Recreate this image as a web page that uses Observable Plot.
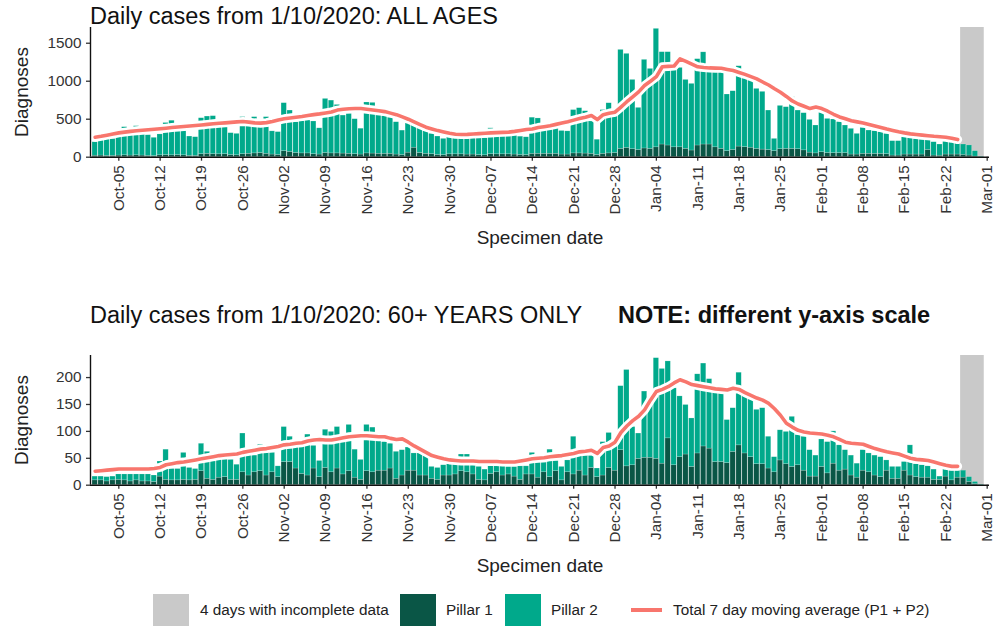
<!DOCTYPE html>
<html><head><meta charset="utf-8">
<script src="https://cdn.jsdelivr.net/npm/d3@7"></script>
<script src="https://cdn.jsdelivr.net/npm/@observablehq/plot@0.6"></script>
<style>
body{margin:0;background:#fff;font-family:"Liberation Sans",Arial,sans-serif;}
#wrap{position:relative;width:994px;height:627px;overflow:hidden;background:#fff;}
.panel{position:absolute;left:0;}
.ytitle{position:absolute;font-size:19px;color:#222;transform:translate(-50%,-50%) rotate(-90deg);white-space:nowrap;line-height:1;}
.xtitle{position:absolute;font-size:19px;color:#222;transform:translate(-50%,-50%);white-space:nowrap;line-height:1;}
.title{position:absolute;font-size:23.5px;color:#111;white-space:nowrap;line-height:1;}
.lg{position:absolute;top:594px;height:32px;line-height:32px;font-size:15.3px;color:#222;white-space:nowrap;}
#wrap svg [aria-label$="tick"]{stroke-width:1.3px;}
</style></head><body><div id="wrap"></div>
<script>
// ---------- DATA ----------
const firstDay = "2020-10-01";
const allAgesTotal = [197,228,233,241,263,395,330,408,320,290,255,
300,450,480,340,345,272,263,513,535,540,
410,400,316,307,527,450,527,455,527,340,
330,711,614,460,474,482,470,380,767,745,
688,548,570,500,375,720,715,548,540,520,
460,350,452,440,395,342,307,272,241,285,
285,285,282,280,255,250,380,290,290,292,
290,270,262,520,510,400,400,395,345,340,
620,645,605,470,230,620,710,560,1412,1360,
1017,649,1281,1162,1689,1382,1382,1190,1175,1017,
965,1290,1380,1165,1150,1140,825,868,1197,1040,
1009,899,860,614,241,675,658,790,614,579,
491,417,660,504,496,461,417,373,307,386,
351,342,329,307,211,211,263,255,241,232,
228,197,167,211,197,184,167,155,79,8];
const allAgesPillar1 = [20,22,18,18,22,25,22,25,22,18,15,
25,28,25,28,25,18,18,
40,45,40,38,40,30,25,
40,45,50,55,45,35,30,
80,70,55,50,50,40,35,
55,50,50,48,45,40,35,
50,48,45,45,45,35,30,
60,125,55,45,40,30,28,
38,38,38,35,35,28,25,
40,38,38,38,35,30,28,
45,45,45,45,45,35,35,
50,50,48,45,30,45,50,
55,110,123,105,95,115,110,
130,167,154,130,130,110,88,
154,167,167,130,110,79,96,
140,132,125,110,100,95,80,
105,110,110,105,90,60,50,
66,55,53,53,53,35,35,
45,45,44,44,40,22,22,
35,35,35,35,96,22,20,
35,35,35,30,22,9,2];
const allAgesMovingAvg = [263,275,290,305,320,330,340,348,355,362,
368,375,382,390,397,403,410,417,424,432,
440,446,452,458,465,470,462,452,448,455,
470,490,505,515,525,535,548,560,570,582,
595,620,632,638,640,640,632,622,612,600,
580,560,530,500,465,430,395,372,350,332,
315,302,298,300,305,310,315,320,324,327,
330,340,352,364,372,390,402,415,432,450,
468,488,508,527,548,495,560,578,592,660,
730,795,860,943,1000,1060,1190,1195,1200,1294,
1260,1225,1190,1180,1175,1172,1170,1155,1140,1115,
1090,1060,1030,990,950,900,855,800,740,700,
670,640,660,640,605,565,530,505,480,465,
450,430,410,390,370,352,335,320,307,298,
290,282,275,270,263,250,232];

const over60Total = [16,16,15,16,20,20,20,20,20,20,18,
44,66,30,30,60,32,30,
77,62,44,50,50,47,38,
96,60,55,75,62,60,35,
108,90,80,75,94,73,45,
103,99,108,85,112,66,47,
112,107,85,80,77,62,65,
70,59,59,55,34,32,37,
39,39,57,57,37,34,29,
37,35,35,34,34,35,35,
60,45,42,66,45,34,46,
90,57,57,55,31,80,97,
77,184,214,108,96,174,155,
236,216,230,180,165,149,124,
206,226,197,175,172,121,143,
209,172,168,140,143,90,52,
102,99,127,93,90,65,55,
85,80,100,74,65,55,40,
65,59,55,52,46,34,34,
43,74,39,37,35,29,16,
34,27,27,27,15,6,1];
const over60Pillar1 = [9,9,7,9,10,9,7,9,7,7,6,
16,10,9,9,10,9,10,
26,12,10,14,15,10,10,
24,18,24,26,18,24,15,
43,43,31,21,18,31,15,
32,24,31,20,26,14,10,
26,24,27,27,31,12,18,
27,27,18,18,12,10,18,
18,20,26,24,20,10,9,
21,24,18,20,16,10,20,
20,14,24,15,26,9,24,
20,27,18,32,15,18,32,
27,65,35,37,49,51,51,
49,40,87,37,52,57,34,
59,72,68,43,43,41,62,
74,59,52,39,39,31,24,
46,39,34,37,27,16,16,
34,22,40,27,29,18,14,
27,24,18,15,27,12,12,
27,18,15,14,14,10,10,
16,9,14,14,6,2,0];
const over60MovingAvg = [26,27,28,29,30,30,30,30,30,30,
31,33,38,40,42,43,45,47,49,51,
53,55,56,57,58,61,63,65,67,68,
70,72,75,76,78,79,82,84,85,84,
84,86,88,90,91,92,92,91,90,90,
87,85,86,80,73,67,61,55,52,49,
47,46,45,45,45,44,44,44,44,43,
43,43,45,47,49,50,51,53,54,55,
57,59,62,63,65,59,70,73,80,98,
110,120,128,140,158,174,178,183,190,196,
192,187,185,183,181,179,178,177,180,178,
172,167,162,158,152,142,130,115,108,102,
99,97,96,95,93,90,85,80,78,77,
76,72,68,65,62,60,58,54,50,48,
47,46,43,40,37,35,35];

const incompleteDays = ["2021-02-25","2021-02-26","2021-02-27","2021-02-28"];
const xTickLabels = ["2020-10-05","2020-10-12","2020-10-19","2020-10-26","2020-11-02","2020-11-09",
"2020-11-16","2020-11-23","2020-11-30","2020-12-07","2020-12-14","2020-12-21","2020-12-28",
"2021-01-04","2021-01-11","2021-01-18","2021-01-25","2021-02-01","2021-02-08","2021-02-15",
"2021-02-22","2021-03-01"];
const yTicksAllAges = [0,500,1000,1500];
const yTicksOver60 = [0,50,100,150,200];

// ---------- CHART ----------
const DAY = 864e5;
const P1 = "#0a5646", P2 = "#00a98b", RED = "#f8766d", GREY = "#c9c9c9";
const start = new Date(firstDay + "T00:00:00Z");
const xDomain = [new Date(+start - 0.7912 * DAY), new Date(Date.UTC(2021,2,1) + 0.39 * DAY)];
const ticks = xTickLabels.map(s => new Date(s + "T00:00:00Z"));
const inc = incompleteDays.map(s => new Date(s + "T00:00:00Z"));
const greyBand = [{x1: new Date(+inc[0] - DAY/2), x2: new Date(+inc[inc.length-1] + DAY/2)}];

function rowsFor(total, p1) {
  return total.map((t, i) => {
    const date = d3.utcDay.offset(start, i);
    return {date, x1: new Date(+date - 0.45*DAY), x2: new Date(+date + 0.45*DAY), total: t, p1: p1[i]};
  });
}
function maFor(ma) { return ma.map((v, i) => ({date: d3.utcDay.offset(start, i), ma: v})); }

function panel(total, p1, ma, yMax, yTicks) {
  const rows = rowsFor(total, p1);
  const mrows = maFor(ma);
  return Plot.plot({
    width: 994, height: 240,
    marginLeft: 90, marginRight: 5, marginTop: 27, marginBottom: 83.3,
    style: {fontFamily: '"Liberation Sans", Arial, sans-serif', fontSize: "15.3px", color: "#333", background: "transparent", overflow: "visible"},
    x: {type: "utc", domain: xDomain, ticks: ticks, tickFormat: d3.utcFormat("%b-%d"), tickRotate: -90, tickSize: 4, tickPadding: 4, label: null},
    y: {domain: [0, yMax], ticks: yTicks, tickFormat: d => String(d), tickSize: 4, tickPadding: 5, label: null},
    marks: [
      Plot.rect(greyBand, {x1: "x1", x2: "x2", fill: GREY}),
      Plot.rect(rows, {x1: "x1", x2: "x2", y1: 0, y2: "p1", fill: P1, stroke: "white", strokeOpacity: 0.35, strokeWidth: 0.5}),
      Plot.rect(rows, {x1: "x1", x2: "x2", y1: "p1", y2: "total", fill: P2, stroke: "white", strokeOpacity: 0.35, strokeWidth: 0.5}),
      Plot.line(mrows, {x: "date", y: "ma", stroke: "white", strokeWidth: 9}),
      Plot.line(mrows, {x: "date", y: "ma", stroke: RED, strokeWidth: 3.6}),
      Plot.ruleY([0], {stroke: "#111", strokeWidth: 1.4}),
      Plot.ruleX([xDomain[0]], {stroke: "#111", strokeWidth: 1.4})
    ]
  });
}

const wrap = document.getElementById("wrap");
function add(el, top) { el.classList.add("panel"); el.style.top = top + "px"; wrap.appendChild(el); }
add(panel(allAgesTotal, allAgesPillar1, allAgesMovingAvg, 1707, yTicksAllAges), 0);
add(panel(over60Total, over60Pillar1, over60MovingAvg, 241, yTicksOver60), 328);

function div(cls, text, css) {
  const d = document.createElement("div");
  d.className = cls; d.textContent = text;
  Object.assign(d.style, css);
  wrap.appendChild(d); return d;
}
div("title", "Daily cases from 1/10/2020: ALL AGES", {left: "90px", top: "5px"});
div("title", "Daily cases from 1/10/2020: 60+ YEARS ONLY", {left: "90px", top: "304px"});
div("title", "NOTE: different y-axis scale", {left: "618px", top: "304px", fontWeight: "bold"});
div("ytitle", "Diagnoses", {left: "21px", top: "92px"});
div("ytitle", "Diagnoses", {left: "21px", top: "420px"});
div("xtitle", "Specimen date", {left: "540px", top: "237px"});
div("xtitle", "Specimen date", {left: "540px", top: "565px"});

// legend
const box = (left, color) => { const b = document.createElement("div");
  Object.assign(b.style, {position: "absolute", left: left + "px", top: "594px", width: "36px", height: "32px", background: color});
  wrap.appendChild(b); };
box(153, GREY); box(400, P1); box(505, P2);
const ln = document.createElement("div");
Object.assign(ln.style, {position: "absolute", left: "631px", top: "608px", width: "31px", height: "4px", background: RED});
wrap.appendChild(ln);
div("lg", "4 days with incomplete data", {left: "200px"});
div("lg", "Pillar 1", {left: "446px"});
div("lg", "Pillar 2", {left: "551px"});
div("lg", "Total 7 day moving average (P1 + P2)", {left: "673px"});
</script>
</body></html>
